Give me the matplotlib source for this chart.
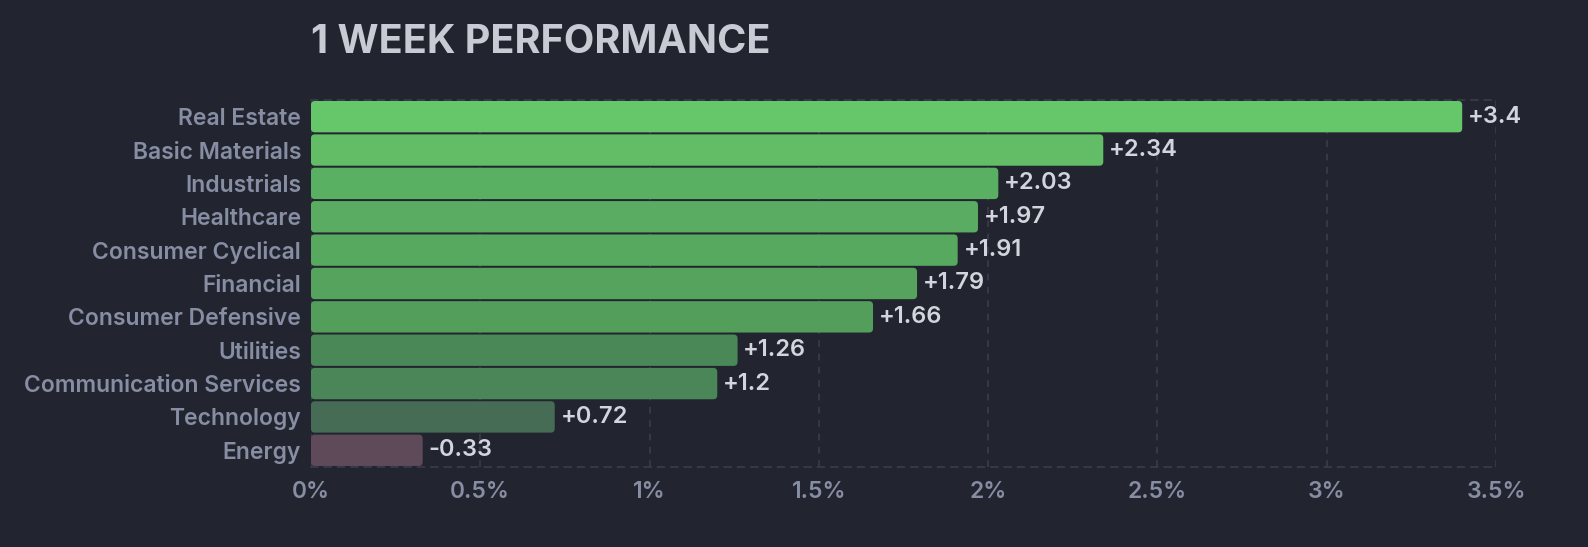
import matplotlib
matplotlib.use('Agg')
import matplotlib.pyplot as plt
from matplotlib.patches import FancyBboxPatch

# Данные
sectors = ['Real Estate', 'Basic Materials', 'Industrials', 'Healthcare',
           'Consumer Cyclical', 'Financial', 'Consumer Defensive', 'Utilities',
           'Communication Services', 'Technology', 'Energy']
changes = [3.4, 2.34, 2.03, 1.97, 1.91, 1.79, 1.66, 1.26, 1.2, 0.72, -0.33]
bar_colors = ['#66C66A', '#62BD66', '#5AB062', '#59AC61', '#58A960', '#56A35D',
              '#549E5C', '#4A8857', '#4A8657', '#466C55', '#5F4A59']
xticks = [0, 0.5, 1, 1.5, 2, 2.5, 3, 3.5]
xtick_labels = ['0%', '0.5%', '1%', '1.5%', '2%', '2.5%', '3%', '3.5%']

BG = '#22252F'
plt.rcParams['font.family'] = ['Inter', 'DejaVu Sans']

fig = plt.figure(figsize=(15.88, 5.47), dpi=100, facecolor=BG)
ax = fig.add_axes([0.1958, 0.1463, 0.7463, 0.6709], facecolor=BG)

ax.set_xlim(0, 3.5)
ax.set_ylim(len(sectors) - 0.5, -0.5)

# пиксели на единицу данных, чтобы скругление было одинаковым по осям
px_x = 0.7463 * 1588 / 3.5
px_y = 0.6709 * 547 / len(sectors)
radius = 4 / px_x
aspect = px_x / px_y

y = list(range(len(sectors)))
widths = [abs(v) for v in changes]
bar_h = 0.94
for yi, w, c in zip(y, widths, bar_colors):
    ax.add_patch(FancyBboxPatch((0, yi - bar_h / 2), w, bar_h,
                                boxstyle=f'round,pad=0,rounding_size={radius}',
                                mutation_aspect=aspect, facecolor=c,
                                edgecolor='none', zorder=3))

# Подписи значений
for yi, w, v in zip(y, widths, changes):
    label = f'+{v:g}' if v > 0 else f'{v:g}'
    ax.text(w + 0.017, yi, label, va='center', ha='left',
            fontsize=17, color='#D2D5DD', fontweight='semibold', zorder=4)

ax.set_yticks(y)
ax.set_yticklabels(sectors, fontweight='semibold')
ax.set_xticks(xticks)
ax.set_xticklabels(xtick_labels, fontweight='semibold')
ax.tick_params(axis='both', length=0, colors='#878DA3', labelsize=16.5)
ax.tick_params(axis='y', pad=7)
ax.tick_params(axis='x', pad=10)

ax.grid(axis='x', color='#3A3E4C', linestyle=(0, (4, 4)), linewidth=1.2, zorder=0)
for side in ['left', 'right']:
    ax.spines[side].set_visible(False)
for side in ['top', 'bottom']:
    ax.spines[side].set_color('#3A3E4C')
    ax.spines[side].set_linestyle((0, (4, 4)))
    ax.spines[side].set_linewidth(1.2)

fig.text(0.1958, 0.923, '1 WEEK PERFORMANCE', fontsize=28.5, fontweight='bold',
         color='#C8CBD3', ha='left', va='center')

plt.savefig('out.png', dpi=100, facecolor=BG)
